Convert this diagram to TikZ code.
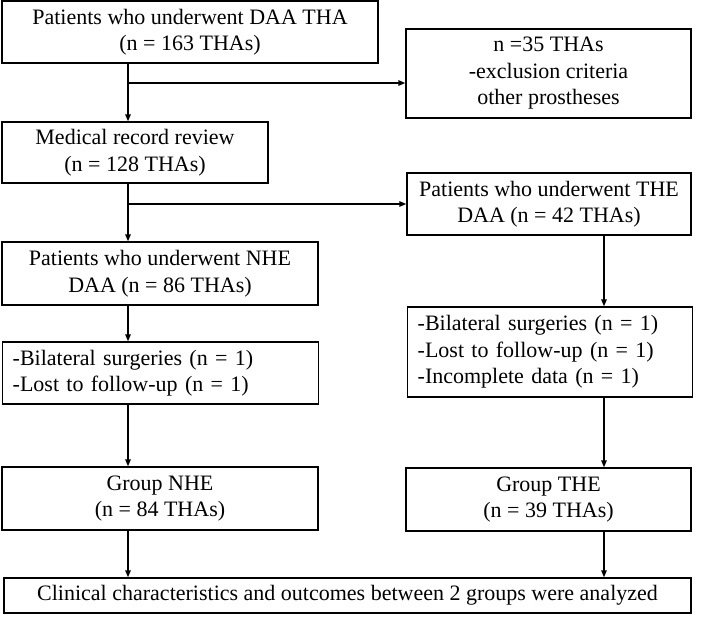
\documentclass[tikz,border=0pt]{standalone}
\usepackage{fontspec}
\setmainfont{Liberation Serif}
\usetikzlibrary{arrows.meta}
\tikzset{
  box/.style={draw, line width=1.4pt, inner sep=0pt, align=center, font=\fontsize{22}{26.5}\selectfont},
  listbox/.style={box, align=left, inner xsep=10pt, anchor=west},
  arr/.style={line width=1.4pt, -{Triangle[length=7pt,width=5.5pt]}},
}

\begin{document}
\begin{tikzpicture}[x=1pt, y=-1pt]
        \useasboundingbox (0,0) rectangle (708,616);
        \node[box, minimum width=376pt, minimum height=62pt] (start) at (190,32) {Patients who underwent DAA THA\\(n = 163 THAs)};
        \node[box, minimum width=285pt, minimum height=89pt] (excl) at (548.5,73.5) {n =35 THAs\\-exclusion criteria\\other prostheses};
        \node[box, minimum width=266pt, minimum height=61pt] (review) at (135,152.5) {Medical record review\\(n = 128 THAs)};
        \node[box, minimum width=284pt, minimum height=62pt] (the) at (549,204) {Patients who underwent THE\\DAA (n = 42 THAs)};
        \node[box, minimum width=316pt, minimum height=63pt] (nhe) at (160,273.5) {Patients who underwent NHE\\DAA (n = 86 THAs)};
        \node[listbox, text width=296pt, minimum height=62pt] (nheout) at (2,373) {-Bilateral surgeries (n = 1)\\-Lost to follow-up (n = 1)};
        \node[listbox, text width=265pt, minimum height=90pt] (theout) at (407,352) {-Bilateral surgeries (n = 1)\\-Lost to follow-up (n = 1)\\-Incomplete data (n = 1)};
        \node[box, minimum width=316pt, minimum height=63pt] (gnhe) at (160,498.5) {Group NHE\\(n = 84 THAs)};
        \node[box, minimum width=285pt, minimum height=63pt] (gthe) at (548.5,499.5) {Group THE\\(n = 39 THAs)};
        \node[box, minimum width=687pt, minimum height=35pt] (final) at (347.5,595.5) {Clinical characteristics and outcomes between 2 groups were analyzed};

        \coordinate (ls) at (128,0);
        \coordinate (rs) at (604,0);
        \coordinate (br1) at (128,83);
        \draw[arr] (start.south -| ls) -- (review.north -| ls);
        \draw[arr] (br1) -- (br1 -| excl.west);
        \draw[arr] (review.south -| ls) -- (nhe.north -| ls);
        \draw[arr] (the.west -| ls) -- (the.west);
        \draw[arr] (nhe.south -| ls) -- (nheout.north -| ls);
        \draw[arr] (nheout.south -| ls) -- (gnhe.north -| ls);
        \draw[arr] (gnhe.south -| ls) -- (final.north -| ls);
        \draw[arr] (the.south -| rs) -- (theout.north -| rs);
        \draw[arr] (theout.south -| rs) -- (gthe.north -| rs);
        \draw[arr] (gthe.south -| rs) -- (final.north -| rs);
      \end{tikzpicture}
\end{document}
